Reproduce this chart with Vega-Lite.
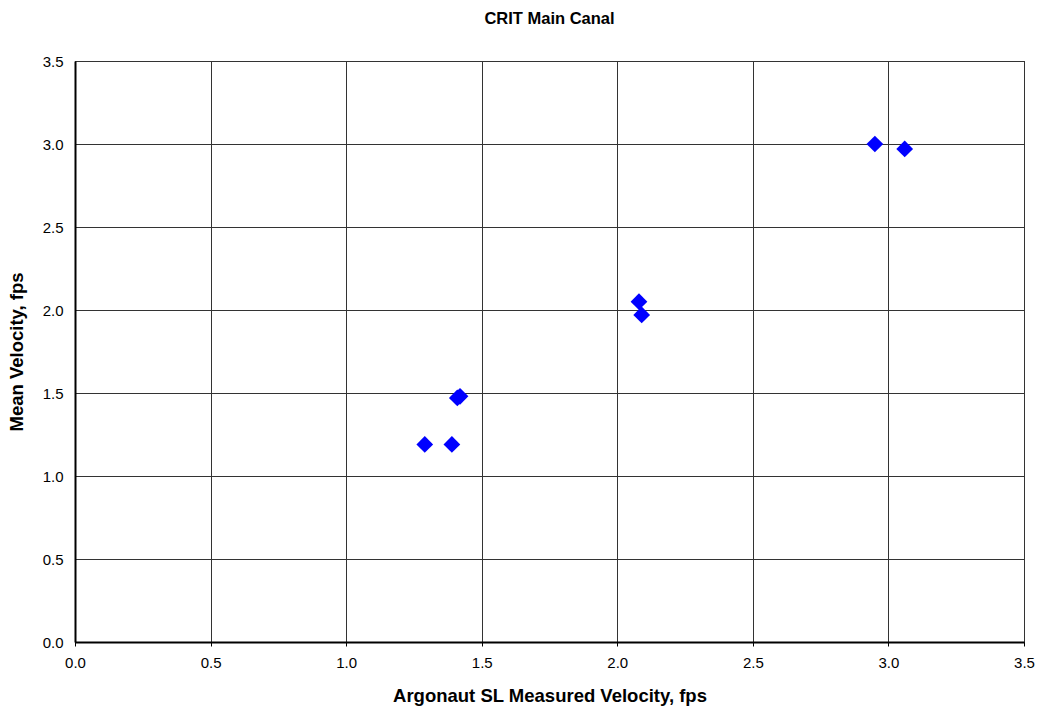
{
  "$schema": "https://vega.github.io/schema/vega-lite/v6.json",
  "width": 949,
  "height": 581,
  "autosize": "none",
  "padding": {"left": 75, "top": 61, "right": 13, "bottom": 66},
  "background": "white",
  "title": {"text": "CRIT Main Canal", "font": "Liberation Sans", "fontSize": 16.5, "fontWeight": "bold", "color": "black", "offset": 27, "anchor": "middle"},
  "data": {"values": [
    {"argonaut": 1.29, "mean": 1.19},
    {"argonaut": 1.39, "mean": 1.19},
    {"argonaut": 1.41, "mean": 1.47},
    {"argonaut": 1.42, "mean": 1.48},
    {"argonaut": 2.08, "mean": 2.05},
    {"argonaut": 2.09, "mean": 1.97},
    {"argonaut": 2.95, "mean": 3.0},
    {"argonaut": 3.06, "mean": 2.97}
  ]},
  "config": {
    "view": {"stroke": "black", "strokeWidth": 1},
    "axis": {"labelFont": "Liberation Sans", "titleFont": "Liberation Sans", "labelFontSize": 15, "titleFontSize": 18.5, "labelColor": "black", "titleColor": "black", "gridColor": "#333333", "gridWidth": 1, "gridOpacity": 1, "domainColor": "black", "domainWidth": 2}
  },
  "mark": {"type": "point", "shape": "diamond", "filled": true, "color": "#0000ff", "size": 280, "opacity": 1},
  "encoding": {
    "x": {"field": "argonaut", "type": "quantitative", "scale": {"domain": [0, 3.5], "nice": false, "zero": false},
      "axis": {"title": "Argonaut SL Measured Velocity, fps", "values": [0, 0.5, 1, 1.5, 2, 2.5, 3, 3.5], "format": ".1f", "tickColor": "black", "tickSize": 4, "labelPadding": 9, "titlePadding": 16, "labelFlush": false}},
    "y": {"field": "mean", "type": "quantitative", "scale": {"domain": [0, 3.5], "nice": false, "zero": false},
      "axis": {"title": "Mean Velocity, fps", "values": [0, 0.5, 1, 1.5, 2, 2.5, 3, 3.5], "format": ".1f", "ticks": false, "labelPadding": 12, "titlePadding": 16, "labelFlush": false}}
  }
}
